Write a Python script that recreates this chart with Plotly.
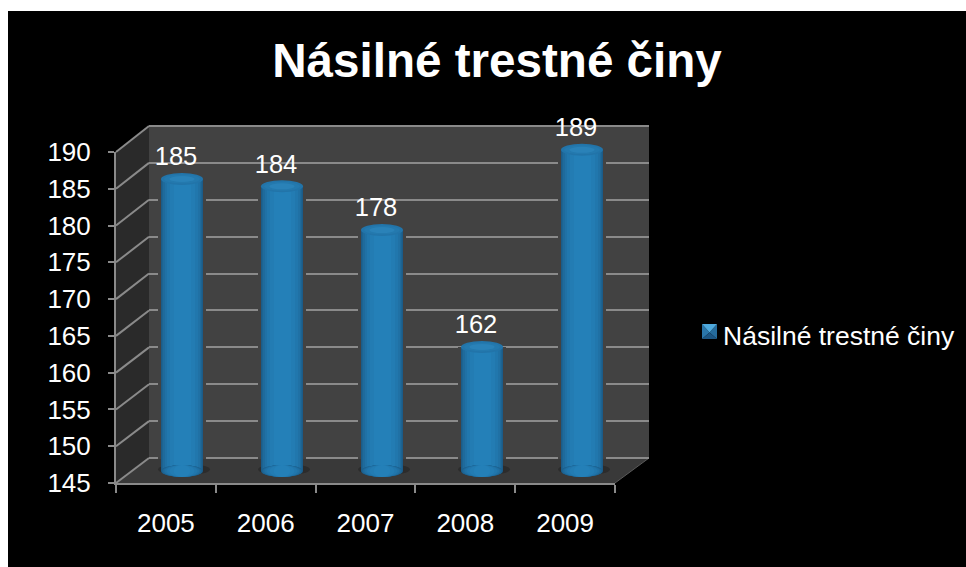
import plotly.graph_objects as go

# ---- data ----
years = ["2005", "2006", "2007", "2008", "2009"]
cases = [185, 184, 178, 162, 189]
y_ticks = [145, 150, 155, 160, 165, 170, 175, 180, 185, 190]
series_name = "Násilné trestné činy"

W, H = 966, 567
GRID = "#8a8a8a"
WALL = "#424242"
def px(x): return x / W
def py(y): return 1 - y / H

# pixel geometry of the 3D-look box
FX0, FX1, FY0, FY1 = 116, 615, 483, 152   # front plane
BX0, BX1, BY0, BY1 = 149, 649, 458, 126   # back plane
Y_RANGE = (145, 190)

def poly(points, fill, layer="below"):
    path = "M" + " L".join(f"{px(x)},{py(y)}" for x, y in points) + " Z"
    return dict(type="path", path=path, xref="paper", yref="paper", fillcolor=fill,
                line_width=0, layer=layer)

shapes = [
    dict(type="rect", xref="paper", yref="paper", x0=px(8), x1=1, y0=0, y1=py(11),
         fillcolor="black", line_width=0, layer="below"),
    poly([(BX0, BY1), (BX1, BY1), (BX1, BY0), (BX0, BY0)], WALL),
    poly([(FX0, FY1), (BX0, BY1), (BX0, BY0), (FX0, FY0)], "#2a2a2a"),
    poly([(FX0, FY0), (BX0, BY0), (BX1, BY0), (FX1, FY0)], "#393939"),
    dict(type="line", xref="paper", yref="paper", x0=px(FX1), y0=py(FY0), x1=px(BX1), y1=py(BY0),
         line=dict(color="#5a5a5a", width=1), layer="below"),
]
# receding grid lines on the side wall
for t in y_ticks:
    f = (t - Y_RANGE[0]) / (Y_RANGE[1] - Y_RANGE[0])
    shapes.append(dict(type="line", xref="paper", yref="paper", layer="below",
                       x0=px(FX0), y0=py(FY0 + (FY1 - FY0) * f),
                       x1=px(BX0), y1=py(BY0 + (BY1 - BY0) * f),
                       line=dict(color=GRID, width=2)))

# bar plane (mid depth)
BAR_X0, BAR_X1 = 132, 632
BAR_Y = lambda v: 471 - (v - 145) * 7.3
BAR_RANGE = (142, 192)

# back-wall axis gets a small overshoot so the outer gridlines are not clipped
OVER = 0.5
BACK_UNIT = (BY0 - BY1) / (Y_RANGE[1] - Y_RANGE[0])

fig = go.Figure()

# front axes: carry ticks and labels
fig.add_trace(go.Scatter(x=years, y=[None] * 5, xaxis="x", yaxis="y", showlegend=False, hoverinfo="skip"))
# back wall: carries the horizontal gridlines
fig.add_trace(go.Scatter(x=years, y=[None] * 5, xaxis="x2", yaxis="y2", showlegend=False, hoverinfo="skip"))

# gap in the gridlines around each column
fig.add_trace(go.Bar(x=years, y=[v - 146.7 for v in cases], base=146.7, width=0.48,
                     marker=dict(color=WALL, line_width=0), xaxis="x3", yaxis="y3",
                     showlegend=False, hoverinfo="skip"))

rx, ry = 0.21, 0.82
# soft floor shadow under each column
for i, v in enumerate(cases):
    shapes.append(dict(type="circle", xref="x3", yref="y3", layer="below",
                       x0=i - rx - 0.03, x1=i + rx + 0.07, y0=145 - ry * 0.7, y1=145 + ry * 1.2,
                       fillcolor="rgba(25,25,25,0.4)", line_width=0))

# cylinders: nested bars give the rounded shading
bar_layers = [
    (0.42, "#1b5b88"), (0.405, "#1d6390"), (0.38, "#1f6a9b"), (0.35, "#2071a5"),
    (0.31, "#2177ad"), (0.25, "#237cb3"), (0.17, "#2480b8"),
]
for w, c in bar_layers:
    fig.add_trace(go.Bar(
        x=years, y=[v - 145 for v in cases], base=145, width=w,
        marker=dict(color=c, line_width=0), xaxis="x3", yaxis="y3",
        showlegend=False, hoverinfo="skip"))
    # rounded foot, matching the shading of the column
    for i in range(len(cases)):
        shapes.append(dict(type="circle", xref="x3", yref="y3", layer="above",
                           x0=i - w / 2, x1=i + w / 2, y0=145 - ry, y1=145 + ry,
                           fillcolor=c, line_width=0))

# top caps
cap_layers = [(1.0, 1.0, "#2274a9"), (0.85, 0.75, "#2479ae"), (0.6, 0.5, "#2a82b8")]
for i, v in enumerate(cases):
    for sx, sy, c in cap_layers:
        shapes.append(dict(type="circle", xref="x3", yref="y3", layer="above",
                           x0=i - rx * sx, x1=i + rx * sx, y0=v - ry * sy, y1=v + ry * sy,
                           fillcolor=c, line_width=0))

# data labels, on an axis pair offset from the column plane
LBL_DX, LBL_DY = -6, -20
fig.add_trace(go.Scatter(
    x=years, y=cases, text=[str(v) for v in cases], mode="text", textposition="middle center",
    textfont=dict(size=25.5, color="white", family="Liberation Sans"),
    xaxis="x4", yaxis="y4", cliponaxis=False, showlegend=False, hoverinfo="skip"))

# legend entry: real text, the bevelled key is drawn beside it
fig.add_trace(go.Scatter(x=[None], y=[None], mode="markers", name=series_name,
                         marker=dict(color="rgba(0,0,0,0)", size=1), xaxis="x", yaxis="y"))
KX0, KX1, KY0, KY1 = 702, 717, 324, 339
kcx, kcy = (KX0 + KX1) / 2, (KY0 + KY1) / 2 + 1
shapes += [
    poly([(KX0, KY0), (KX0, KY1), (kcx, kcy)], "#2a76aa", "above"),
    poly([(KX1, KY0), (KX1, KY1), (kcx, kcy)], "#256b9c", "above"),
    poly([(KX0, KY1), (KX1, KY1), (kcx, kcy)], "#1c5684", "above"),
    poly([(KX0, KY0), (KX1, KY0), (kcx, kcy)], "#4ea9dd", "above"),
]

axis_font = dict(size=26, color="white", family="Liberation Sans")
fig.update_layout(
    width=W, height=H, margin=dict(l=0, r=0, t=0, b=0, autoexpand=False),
    paper_bgcolor="white", plot_bgcolor="rgba(0,0,0,0)",
    barmode="overlay", bargap=0,
    font=axis_font,
    title=dict(text="<b>" + series_name + "</b>", x=497 / W, xanchor="center", xref="paper",
               y=py(60), yanchor="middle", yref="container",
               font=dict(size=47.6, color="white", family="Liberation Sans")),
    xaxis=dict(domain=[px(FX0), px(FX1)], anchor="y", type="category", categoryorder="array", categoryarray=years,
               range=[-0.5, 4.5], tickson="boundaries", ticks="outside", ticklen=8, tickwidth=2, tickcolor=GRID,
               showline=True, linecolor=GRID, linewidth=2, showgrid=False, zeroline=False,
               tickfont=axis_font, ticklabelstandoff=16),
    yaxis=dict(domain=[py(FY0), py(FY1)], anchor="x", range=list(Y_RANGE), tickvals=y_ticks,
               ticks="outside", ticklen=6, tickwidth=2, tickcolor=GRID,
               showline=True, linecolor=GRID, linewidth=2, showgrid=False, zeroline=False,
               tickfont=axis_font, ticklabelstandoff=12),
    xaxis2=dict(domain=[px(BX0), px(BX1)], anchor="y2", type="category", categoryorder="array", categoryarray=years,
                range=[-0.5, 4.5], visible=False),
    yaxis2=dict(domain=[py(BY0 + OVER * BACK_UNIT), py(BY1 - OVER * BACK_UNIT)], anchor="x2",
                range=[Y_RANGE[0] - OVER, Y_RANGE[1] + OVER], tickvals=y_ticks,
                showticklabels=False, ticks="", showline=False, zeroline=False,
                showgrid=True, gridcolor=GRID, gridwidth=2),
    xaxis3=dict(domain=[px(BAR_X0), px(BAR_X1)], anchor="y3", type="category", categoryorder="array", categoryarray=years,
                visible=False, range=[-0.5, 4.5]),
    yaxis3=dict(domain=[py(BAR_Y(BAR_RANGE[0])), py(BAR_Y(BAR_RANGE[1]))], anchor="x3", range=list(BAR_RANGE),
                visible=False),
    xaxis4=dict(domain=[px(BAR_X0 + LBL_DX), px(BAR_X1 + LBL_DX)], anchor="y4", type="category",
                categoryorder="array", categoryarray=years, visible=False, range=[-0.5, 4.5]),
    yaxis4=dict(domain=[py(BAR_Y(BAR_RANGE[0]) + LBL_DY), py(BAR_Y(BAR_RANGE[1]) + LBL_DY)], anchor="x4",
                range=list(BAR_RANGE), visible=False),
    legend=dict(x=px(683), y=py(335), xanchor="left", yanchor="middle", bgcolor="rgba(0,0,0,0)",
                font=dict(size=26.5, color="white", family="Liberation Sans"),
                itemclick=False, itemdoubleclick=False),
    shapes=shapes, showlegend=True,
)
fig.write_html("out.html", config={"displayModeBar": False},
               post_script="document.body.style.margin='0';")
